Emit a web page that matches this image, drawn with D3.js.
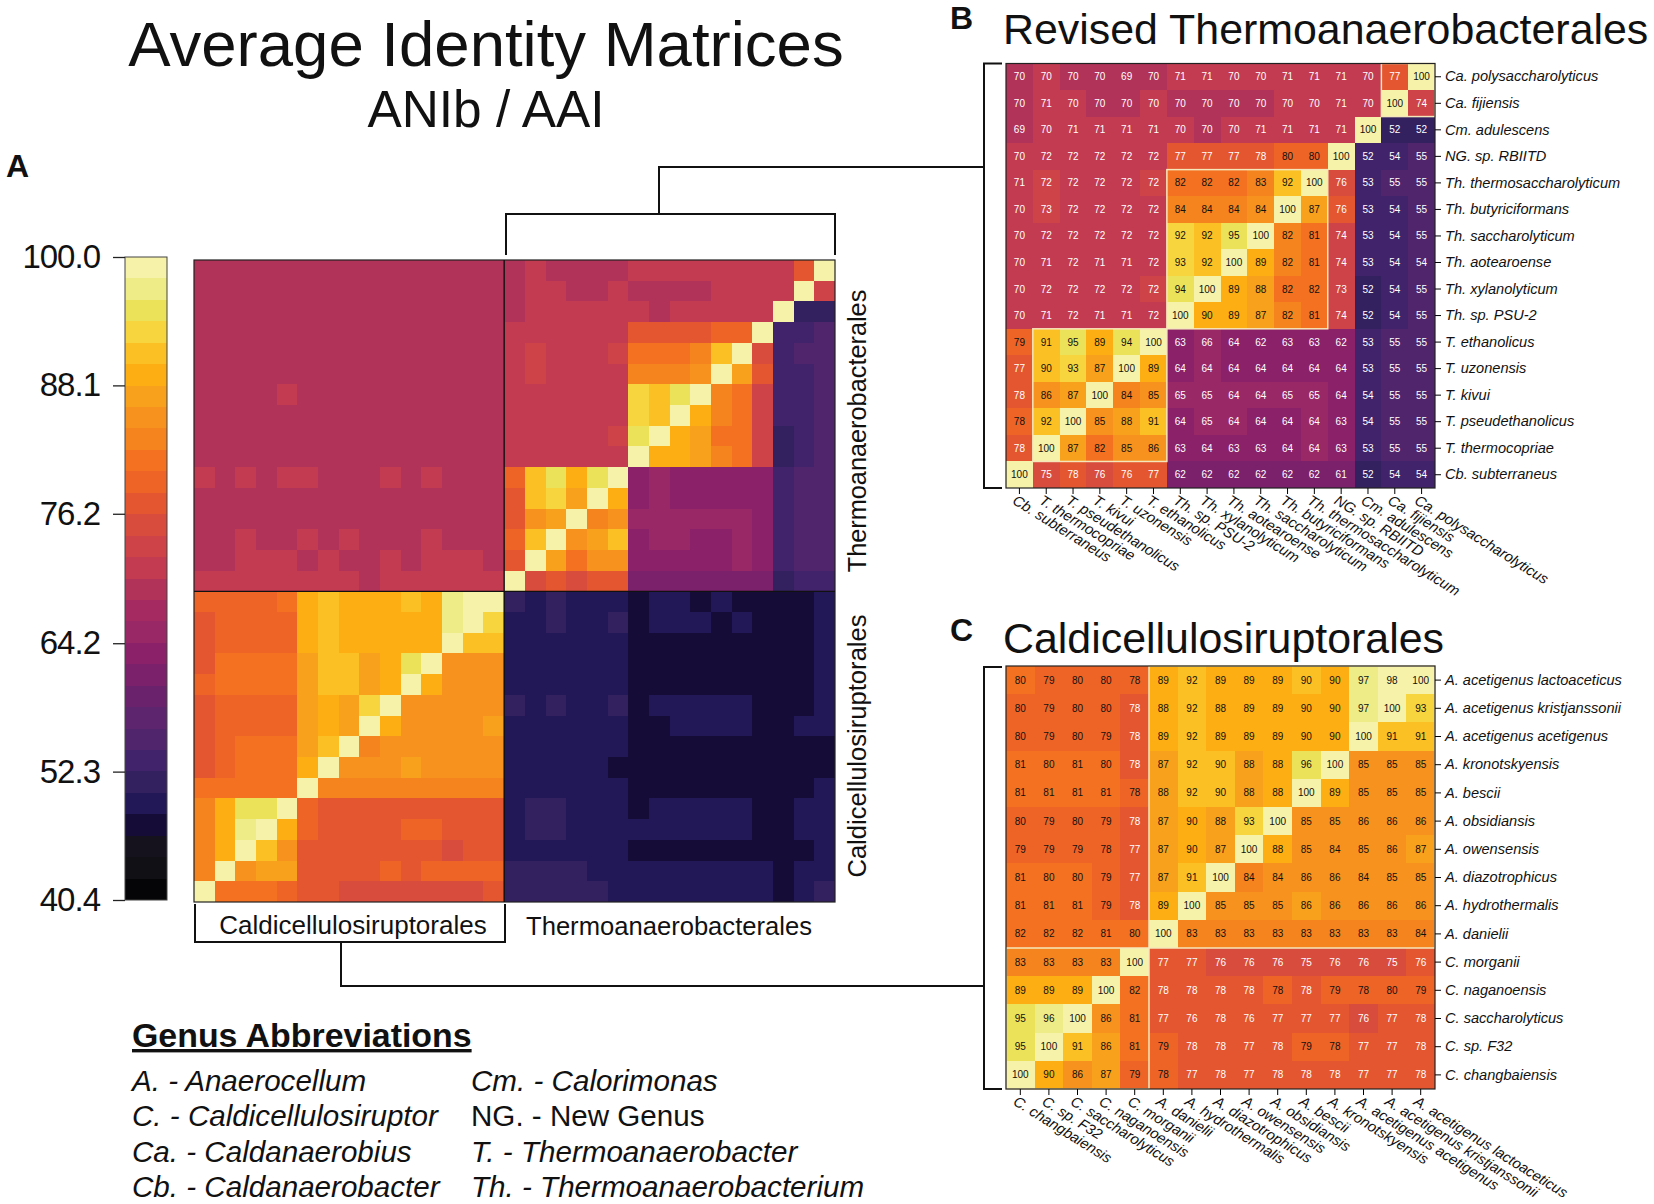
<!DOCTYPE html>
<html>
<head>
<meta charset="utf-8">
<script src="https://cdn.jsdelivr.net/npm/d3@7"></script>
<style>
  body { margin: 0; background: #fff; }
  text { font-family: "Liberation Sans", Arial, sans-serif; fill: #111; }
</style>
</head>
<body>
<svg id="chart" width="1654" height="1204"></svg>
<script>
// species, top row first; the x axis runs the other way round
const thermoSpecies = ['Ca. polysaccharolyticus', 'Ca. fijiensis', 'Cm. adulescens', 'NG. sp. RBIITD',
  'Th. thermosaccharolyticum', 'Th. butyriciformans', 'Th. saccharolyticum', 'Th. aotearoense',
  'Th. xylanolyticum', 'Th. sp. PSU-2', 'T. ethanolicus', 'T. uzonensis', 'T. kivui',
  'T. pseudethanolicus', 'T. thermocopriae', 'Cb. subterraneus'];
const caldSpecies = ['A. acetigenus lactoaceticus', 'A. acetigenus kristjanssonii', 'A. acetigenus acetigenus',
  'A. kronotskyensis', 'A. bescii', 'A. obsidiansis', 'A. owensensis', 'A. diazotrophicus',
  'A. hydrothermalis', 'A. danielii', 'C. morganii', 'C. naganoensis', 'C. saccharolyticus',
  'C. sp. F32', 'C. changbaiensis'];

// panel B, decimals only where the cell shade says which side of a colour step it sits
const thermoValues = [
  [70, 70.4, 70, 70, 69, 70, 71, 71, 70.4, 70.4, 71, 71, 71, 70.4, 77, 100],
  [70, 71, 70.4, 70, 70, 70.4, 70, 70, 70, 70, 70.4, 70.4, 71, 70.4, 100, 74],
  [69, 70.4, 71, 71, 71, 71, 70.4, 70, 70.4, 71, 71, 71, 71, 100, 52, 52],
  [70.4, 72, 72, 72, 72, 72, 77, 77, 77, 78, 80, 80, 100, 52.4, 54, 55],
  [71, 72.3, 72, 72, 72, 72.3, 82, 82, 82, 83, 92, 100, 75.9, 53, 55, 55],
  [70.4, 73, 72, 72, 72, 72, 84, 84, 84, 84.3, 100, 87, 76.3, 53, 54, 55],
  [70.4, 72, 72, 72, 72, 72, 92.3, 92, 95, 100, 82.3, 81, 74, 53, 54, 55],
  [70.4, 71, 72, 71, 71, 72, 93, 92, 100, 89, 82.3, 81, 74, 53, 54, 54.4],
  [70.4, 72, 72, 72, 72, 72.3, 94.2, 100, 89, 88, 82, 82, 73, 52, 54, 55],
  [70.4, 71, 72, 71, 71, 72, 100, 90, 89, 87, 82.3, 81, 74, 52, 54, 55],
  [79, 91, 95, 89, 94.2, 100, 63, 66, 64, 62.3, 63, 63, 62.3, 53, 55, 55],
  [77, 90.2, 93, 87, 100, 89, 64, 64.3, 64, 64, 64, 64, 64, 53, 55, 55],
  [78, 86, 87, 100, 84, 85, 65, 65, 64.3, 64.3, 65, 65, 64, 54, 55, 55],
  [78.3, 92, 100, 85, 88, 91, 64, 65, 64.3, 64, 64, 64.3, 63, 54, 55, 55],
  [78, 100, 87, 82, 85, 86, 63, 64, 63, 63, 64, 64.3, 63, 53, 55, 55],
  [100, 75, 78, 76, 76.3, 77, 62, 62, 62, 62, 62, 62, 61, 52, 54, 54]
];

// panel C
const caldValues = [
  [80.2, 79, 80, 80, 78.3, 89, 92, 89, 89, 89, 90.2, 90, 97, 98.1, 100],
  [80, 79, 80, 80, 78, 88.3, 92, 88.3, 89, 89, 90, 90, 97, 100, 93],
  [80, 79, 80, 79, 78, 89, 92, 89, 89, 89, 90, 90, 100, 91, 91],
  [81, 80.3, 81, 80.3, 78, 87, 92, 90.2, 88, 88.3, 96, 100, 85, 85, 85],
  [81, 81, 81, 81, 78.3, 88, 92, 90.2, 88, 88.3, 100, 89, 85, 85, 85],
  [80, 79, 80, 79, 78, 87, 90, 88, 93, 100, 85, 85, 86, 86, 86],
  [79, 79, 79, 78.3, 77, 87, 90, 87, 100, 88.3, 85, 84.3, 85, 86, 87],
  [81, 80.3, 80.3, 79, 77, 87, 91, 100, 84, 84.3, 86, 86, 84.3, 85, 85],
  [81, 81, 81, 79, 78, 89, 100, 85, 85, 85, 86.2, 86, 86, 86, 86],
  [82, 82, 82, 81, 80.3, 100, 83, 83, 83, 83, 83, 83, 83, 83, 84],
  [83, 83, 83, 83, 100, 77, 77, 76, 76, 76, 75, 76, 76, 75, 76.3],
  [89, 89, 89, 100, 82, 78, 78, 78, 78, 78.3, 78, 79, 78.3, 80, 79],
  [95, 96.1, 100, 86, 81, 77, 76.3, 78, 76.3, 77, 77, 77, 76, 77, 78],
  [95, 100, 91, 86.2, 81, 79, 78, 78, 77, 78, 79, 78.3, 77, 77, 78],
  [100, 90, 86, 87, 79, 78.3, 77, 78, 77, 78, 78, 78, 77, 77, 78]
];

// panel A, upper left: Thermoanaerobacterales rows against Caldicellulosiruptorales columns
const thermoVsCald = [
  [69, 69, 69, 69, 69, 69, 69, 69, 69, 69, 69, 69, 69, 69, 69],
  [69, 69, 69, 69, 69, 69, 69, 69, 69, 69, 69, 69, 69, 69, 69],
  [69, 69, 69, 69, 69, 69, 69, 69, 69, 69, 69, 69, 69, 69, 69],
  [69, 69, 69, 69, 69, 69, 69, 69, 69, 69, 69, 69, 69, 69, 69],
  [69, 69, 69, 69, 69, 69, 69, 69, 69, 69, 69, 69, 69, 69, 69],
  [69, 69, 69, 69, 69, 69, 69, 69, 69, 69, 69, 69, 69, 69, 69],
  [69, 69, 69, 69, 71, 69, 69, 69, 69, 69, 69, 69, 69, 69, 69],
  [69, 69, 69, 69, 69, 69, 69, 69, 69, 69, 69, 69, 69, 69, 69],
  [69, 69, 69, 69, 69, 69, 69, 69, 69, 69, 69, 69, 69, 69, 69],
  [69, 69, 69, 69, 69, 69, 69, 69, 69, 69, 69, 69, 69, 69, 69],
  [71, 69, 71, 69, 71, 71, 69, 69, 69, 71, 69, 71, 69, 69, 69],
  [69, 69, 69, 69, 69, 69, 69, 69, 69, 69, 69, 69, 69, 69, 69],
  [69, 69, 69, 69, 69, 69, 69, 69, 69, 69, 69, 69, 69, 69, 69],
  [69, 69, 71, 69, 69, 71, 69, 71, 69, 69, 69, 71, 69, 69, 69],
  [69, 69, 71, 71, 71, 69, 71, 69, 69, 71, 69, 71, 71, 71, 69],
  [71, 71, 71, 71, 71, 71, 71, 71, 69, 71, 71, 71, 71, 71, 71]
];

// panel A, lower right: Caldicellulosiruptorales rows against Thermoanaerobacterales columns
const caldVsThermo = [
  [51, 50, 51, 50, 50, 50, 48, 50, 50, 48, 50, 48, 48, 48, 48, 50],
  [50, 50, 51, 50, 50, 51, 48, 50, 50, 50, 48, 50, 48, 48, 48, 50],
  [50, 50, 50, 50, 50, 50, 48, 48, 48, 48, 48, 48, 48, 48, 48, 50],
  [50, 50, 50, 50, 50, 50, 48, 48, 48, 48, 48, 48, 48, 48, 48, 50],
  [50, 50, 50, 50, 50, 50, 48, 48, 48, 48, 48, 48, 48, 48, 48, 50],
  [51, 50, 51, 50, 50, 51, 48, 50, 50, 50, 50, 50, 48, 48, 48, 50],
  [50, 50, 50, 50, 50, 50, 48, 48, 50, 50, 50, 50, 48, 48, 50, 50],
  [50, 50, 50, 50, 50, 50, 48, 48, 48, 48, 48, 48, 48, 48, 48, 48],
  [50, 50, 50, 50, 50, 48, 48, 48, 48, 48, 48, 48, 48, 48, 48, 48],
  [50, 50, 50, 50, 50, 50, 48, 48, 48, 48, 48, 48, 48, 48, 48, 50],
  [50, 51, 51, 50, 50, 50, 48, 50, 50, 50, 50, 50, 48, 48, 50, 50],
  [50, 51, 51, 50, 50, 50, 50, 50, 50, 50, 50, 50, 48, 48, 50, 50],
  [50, 50, 50, 50, 50, 50, 48, 48, 48, 48, 48, 48, 48, 48, 48, 50],
  [51, 51, 51, 51, 50, 50, 50, 50, 50, 50, 50, 50, 50, 48, 50, 50],
  [51, 51, 51, 51, 51, 50, 50, 50, 50, 50, 50, 50, 50, 48, 50, 51]
];

// colour steps of the key, lowest first
const keySteps = ['#050507', '#111115', '#15121e', '#150d38', '#221858', '#33205f', '#40236a', '#50256c',
  '#5c256e', '#6a226d', '#7b216b', '#8a2169', '#982866', '#a52a62', '#b13359', '#c23b50',
  '#cd4347', '#d84c3e', '#e3562f', '#ee6427', '#f37120', '#f5841f', '#f7921e', '#f8a11c',
  '#fcae12', '#fbc024', '#f6d53e', '#ece25a', '#eeec86', '#f7f2a9'];
const keyTicks = [100.0, 88.1, 76.2, 64.2, 52.3, 40.4];

const genusLeft = ['A. - Anaerocellum', 'C. - Caldicellulosiruptor', 'Ca. - Caldanaerobius', 'Cb. - Caldanaerobacter'];
const genusRight = ['Cm. - Calorimonas', 'NG. - New Genus', 'T. - Thermoanaerobacter', 'Th. - Thermoanaerobacterium'];

const svg = d3.select('#chart');
const color = d3.scaleQuantize().domain([40.4, 100]).range(keySteps);
const paleLine = '#f6e7bb';

// panel A draws the C. block of the lower left quadrant in its own order
const caldForOverview = caldValues.map((row, r) => r < 10
  ? [...row.slice(0, 5).reverse(), ...row.slice(5)]
  : [...caldValues.slice(10).map(other => other[r - 10]), ...caldValues[24 - r].slice(5)]);

const overview = [
  ...thermoVsCald.map((row, r) => [...row, ...thermoValues[r]]),
  ...caldForOverview.map((row, r) => [...row, ...caldVsThermo[r]])
];

function cells(group, matrix, x, y) {
  return group.selectAll('g.row')
    .data(matrix)
    .join('g')
    .attr('class', 'row')
    .each(function (row, r) {
      d3.select(this).selectAll('rect')
        .data(row)
        .join('rect')
        .attr('x', (d, c) => x(c))
        .attr('y', y(r))
        .attr('width', x.bandwidth())
        .attr('height', y.bandwidth())
        .attr('shape-rendering', 'crispEdges')
        .attr('fill', d => color(d));
    });
}

// ---- panel A
const ax = d3.scaleBand().domain(d3.range(31)).range([194, 835]);
const ay = d3.scaleBand().domain(d3.range(31)).range([260, 902]);
cells(svg.append('g'), overview, ax, ay);
svg.append('rect')
  .attr('x', 194).attr('y', 260).attr('width', 641).attr('height', 642)
  .attr('fill', 'none').attr('stroke', '#222').attr('stroke-width', 1.2);
svg.append('line').attr('x1', ax(15)).attr('x2', ax(15)).attr('y1', 260).attr('y2', 902)
  .attr('stroke', '#111').attr('stroke-width', 1.4);
svg.append('line').attr('x1', 194).attr('x2', 835).attr('y1', ay(16)).attr('y2', ay(16))
  .attr('stroke', '#111').attr('stroke-width', 1.4);

// ---- colour key
const keyY = d3.scaleLinear().domain([40.4, 100]).range([900, 257]);
svg.append('g').selectAll('rect')
  .data(keySteps)
  .join('rect')
  .attr('x', 125)
  .attr('width', 42)
  .attr('y', d => keyY(color.invertExtent(d)[1]))
  .attr('height', d => keyY(color.invertExtent(d)[0]) - keyY(color.invertExtent(d)[1]))
  .attr('shape-rendering', 'crispEdges')
  .attr('fill', d => d);
svg.append('rect').attr('x', 125).attr('y', 257).attr('width', 42).attr('height', 643)
  .attr('fill', 'none').attr('stroke', '#444').attr('stroke-width', 1);
const keyAxis = svg.append('g')
  .attr('transform', 'translate(125,0)')
  .call(d3.axisLeft(keyY).tickValues(keyTicks).tickFormat(d3.format('.1f')).tickSize(12).tickPadding(13));
keyAxis.select('.domain').remove();
keyAxis.selectAll('line').attr('stroke', '#222').attr('stroke-width', 1.3);
keyAxis.selectAll('text').style('font-size', '33px').attr('font-family', 'Liberation Sans').style('letter-spacing', '-1px');

// ---- panels B and C
function panel(names, values, box, blocks) {
  const n = names.length;
  const x = d3.scaleBand().domain(d3.range(n)).range([box.left, box.right]);
  const y = d3.scaleBand().domain(d3.range(n)).range([box.top, box.bottom]);
  const g = svg.append('g');
  cells(g, values, x, y);

  g.selectAll('text.value')
    .data(values.flatMap((row, r) => row.map((v, c) => ({ v, r, c }))))
    .join('text')
    .attr('class', 'value')
    .attr('x', d => x(d.c) + x.bandwidth() / 2)
    .attr('y', d => y(d.r) + y.bandwidth() / 2 + 3.5)
    .attr('text-anchor', 'middle')
    .style('font-size', '10px')
    .style('fill', d => d.v > 78.15 ? '#111' : '#fff')
    .text(d => Math.round(d.v));

  // blocks of closely related genera
  g.selectAll('rect.block')
    .data(blocks)
    .join('rect')
    .attr('class', 'block')
    .attr('x', d => x(d.c0))
    .attr('y', d => y(d.r0))
    .attr('width', d => x(d.c1) + x.bandwidth() - x(d.c0))
    .attr('height', d => y(d.r1) + y.bandwidth() - y(d.r0))
    .attr('fill', 'none')
    .attr('stroke', paleLine)
    .attr('stroke-width', 1.5);

  g.append('rect')
    .attr('x', box.left).attr('y', box.top)
    .attr('width', box.right - box.left).attr('height', box.bottom - box.top)
    .attr('fill', 'none').attr('stroke', '#222').attr('stroke-width', 1.2);

  const right = g.append('g')
    .attr('transform', `translate(${box.right},0)`)
    .call(d3.axisRight(y).tickFormat(i => names[i]).tickSize(6).tickPadding(4));
  right.select('.domain').remove();
  right.selectAll('text').style('font-size', '14.6px').style('font-style', 'italic');

  const reversed = names.slice().reverse();
  const bottom = g.append('g')
    .attr('transform', `translate(0,${box.bottom})`)
    .call(d3.axisBottom(x).tickFormat(i => reversed[i]).tickSize(6).tickPadding(4));
  bottom.select('.domain').remove();
  bottom.selectAll('text')
    .style('font-size', '14.7px')
    .style('font-style', 'italic')
    .attr('text-anchor', 'start')
    .attr('dy', 0)
    .attr('y', 0)
    .attr('transform', 'translate(-8,15) rotate(32)');
}

panel(thermoSpecies, thermoValues, { left: 1006, right: 1435, top: 63.5, bottom: 488 }, [
  { r0: 0, r1: 1, c0: 14, c1: 15 },
  { r0: 4, r1: 9, c0: 6, c1: 11 },
  { r0: 10, r1: 14, c0: 1, c1: 5 }
]);
panel(caldSpecies, caldValues, { left: 1006, right: 1435, top: 666, bottom: 1089 }, [
  { r0: 0, r1: 9, c0: 5, c1: 14 },
  { r0: 10, r1: 14, c0: 0, c1: 4 }
]);

// ---- brackets and connectors
const brackets = [
  'M1002,63.5H984V488H1002',
  'M984,167H659V214',
  'M506,255V214H835V255',
  'M1002,667H984V1089H1002',
  'M984,986H341V942',
  'M195,904V942H505V904'
];
svg.append('g').selectAll('path')
  .data(brackets)
  .join('path')
  .attr('d', d => d)
  .attr('fill', 'none')
  .attr('stroke', '#111')
  .attr('stroke-width', 2);

// ---- titles and notes
const notes = [
  { t: 'Average Identity Matrices', x: 486, y: 66, size: 63.5, anchor: 'middle' },
  { t: 'ANIb / AAI', x: 486, y: 127, size: 51.4, anchor: 'middle' },
  { t: 'Revised Thermoanaerobacterales', x: 1003, y: 44, size: 42.9 },
  { t: 'Caldicellulosiruptorales', x: 1003, y: 653, size: 42.9 },
  { t: 'A', x: 6, y: 177, size: 32, weight: 'bold' },
  { t: 'B', x: 950, y: 29, size: 32, weight: 'bold' },
  { t: 'C', x: 950, y: 641, size: 32, weight: 'bold' },
  { t: 'Caldicellulosiruptorales', x: 353, y: 934, size: 26, anchor: 'middle' },
  { t: 'Thermoanaerobacterales', x: 669, y: 935, size: 25.6, anchor: 'middle' }
];
svg.append('g').selectAll('text')
  .data(notes)
  .join('text')
  .attr('x', d => d.x)
  .attr('y', d => d.y)
  .attr('text-anchor', d => d.anchor || 'start')
  .style('font-size', d => d.size + 'px')
  .style('font-weight', d => d.weight || 'normal')
  .text(d => d.t);

// order labels on the right of panel A
svg.append('text')
  .attr('transform', 'translate(866,431) rotate(-90)')
  .attr('text-anchor', 'middle')
  .style('font-size', '25.3px')
  .text('Thermoanaerobacterales');
svg.append('text')
  .attr('transform', 'translate(866,746) rotate(-90)')
  .attr('text-anchor', 'middle')
  .style('font-size', '25.6px')
  .text('Caldicellulosiruptorales');

svg.append('text')
  .attr('x', 132).attr('y', 1047)
  .style('font-size', '33.9px').style('font-weight', 'bold').style('text-decoration', 'underline')
  .text('Genus Abbreviations');

const genusRow = d3.scalePoint().domain(d3.range(4)).range([1091, 1197]);
[[genusLeft, 132], [genusRight, 471]].forEach(([list, left]) => {
  svg.append('g').selectAll('text')
    .data(list)
    .join('text')
    .attr('x', left)
    .attr('y', (d, i) => genusRow(i))
    .style('font-size', '29.6px')
    .style('font-style', d => d.startsWith('NG') ? 'normal' : 'italic')
    .text(d => d);
});
</script>
</body>
</html>
